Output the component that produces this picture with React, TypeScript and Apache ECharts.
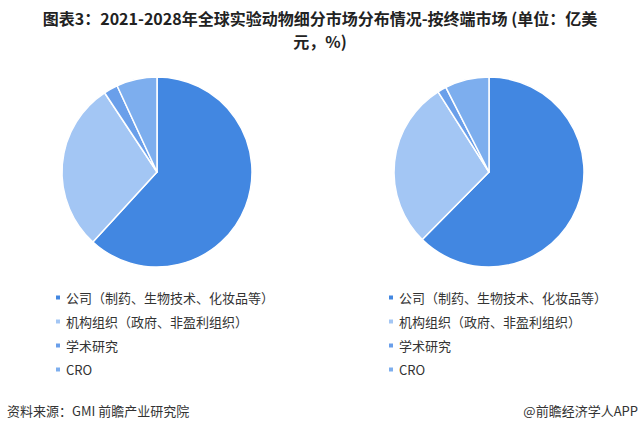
import React, { useEffect, useRef } from "react";
import * as echarts from "echarts";

const categories = [
  "公司（制药、生物技术、化妆品等）",
  "机构组织（政府、非盈利组织）",
  "学术研究",
  "CRO",
];
const values2021 = [61.8, 28.9, 2.4, 6.9];
const values2028 = [62.4, 28.6, 1.5, 7.5];
const colors = ["#4287E1", "#A3C6F4", "#6A9FEA", "#7DAEEE"];

const titleLine1 = "图表3：2021-2028年全球实验动物细分市场分布情况-按终端市场 (单位：亿美";
const titleLine2 = "元，%)";
const sourceText = "资料来源：GMI 前瞻产业研究院";
const brandText = "@前瞻经济学人APP";

const FONT = "'Noto Sans CJK SC', 'Noto Sans', sans-serif";

export default function App() {
  const ref = useRef<HTMLDivElement>(null);
  useEffect(() => {
    if (!ref.current) return;
    const chart = echarts.init(ref.current, null, { renderer: "svg" });
    const mkData = (vals: number[]) =>
      categories.map((name, i) => ({ name, value: vals[i], itemStyle: { color: colors[i] } }));
    const legendBase = {
      orient: "vertical" as const,
      top: 286,
      itemWidth: 6,
      itemHeight: 6,
      itemGap: 11,
      icon: "rect",
      data: categories,
      textStyle: { fontFamily: FONT, fontSize: 13, color: "#333" },
    };
    chart.setOption({
      animation: false,
      backgroundColor: "#fff",
      graphic: [
        {
          type: "text",
          x: 320,
          y: 18,
          style: {
            text: titleLine1,
            textAlign: "center",
            textVerticalAlign: "middle",
            fontFamily: FONT,
            fontWeight: "bold",
            fontSize: 16,
            fill: "#222",
          },
        },
        {
          type: "text",
          x: 320,
          y: 41,
          style: {
            text: titleLine2,
            textAlign: "center",
            textVerticalAlign: "middle",
            fontFamily: FONT,
            fontWeight: "bold",
            fontSize: 16,
            fill: "#222",
          },
        },
        {
          type: "text",
          x: 7,
          y: 410,
          style: {
            text: sourceText,
            textAlign: "left",
            textVerticalAlign: "middle",
            fontFamily: FONT,
            fontSize: 13,
            fill: "#333",
          },
        },
        {
          type: "text",
          x: 638,
          y: 410,
          style: {
            text: brandText,
            textAlign: "right",
            textVerticalAlign: "middle",
            fontFamily: FONT,
            fontSize: 13,
            fill: "#333",
          },
        },
      ],
      legend: [
        { ...legendBase, left: 49 },
        { ...legendBase, left: 382 },
      ],
      series: [
        {
          type: "pie",
          center: [157, 172],
          radius: [0, 95],
          startAngle: 90,
          clockwise: true,
          label: { show: false },
          labelLine: { show: false },
          itemStyle: { borderColor: "#fff", borderWidth: 1.5 },
          emphasis: { disabled: true },
          data: mkData(values2021),
        },
        {
          type: "pie",
          center: [489, 172],
          radius: [0, 95],
          startAngle: 90,
          clockwise: true,
          label: { show: false },
          labelLine: { show: false },
          itemStyle: { borderColor: "#fff", borderWidth: 1.5 },
          emphasis: { disabled: true },
          data: mkData(values2028),
        },
      ],
    });
    return () => chart.dispose();
  }, []);
  return <div ref={ref} style={{ width: 640, height: 430, position: "absolute", left: 0, top: 0 }} />;
}
